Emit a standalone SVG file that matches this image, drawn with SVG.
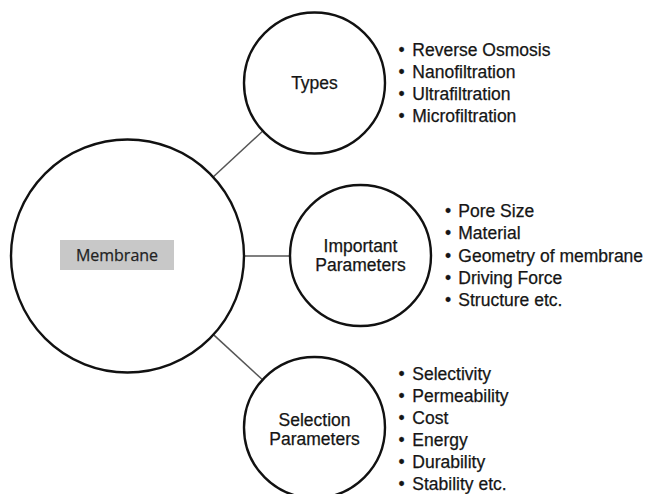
<svg xmlns="http://www.w3.org/2000/svg" width="652" height="494" viewBox="0 0 652 494">
<style>
.node{fill:#fff;stroke:#111;stroke-width:2.4}
.conn{stroke:#555;stroke-width:1.5;fill:none}
text{font-family:"Liberation Sans",Arial,sans-serif;font-size:17.5px;fill:#151515;stroke:#151515;stroke-width:0.25}
.c{text-anchor:middle}
.lbl{font-family:"Open Sans","Noto Sans",sans-serif;font-size:16px;fill:#222;stroke:#222}
</style>
<rect width="652" height="494" fill="#fff"/>
<g id="connectors">
<line class="conn" x1="213.4" y1="176.8" x2="262.8" y2="131"/>
<line class="conn" x1="244.5" y1="256" x2="290" y2="256"/>
<line class="conn" x1="213.7" y1="334.9" x2="262.6" y2="379.8"/>
</g>
<g id="membrane">
<circle class="node" cx="127.5" cy="256" r="116.5"/>
<rect x="60" y="240" width="114" height="30" fill="#c8c8c8"/>
<text class="c lbl" x="117" y="261">Membrane</text>
</g>
<g id="types">
<circle class="node" cx="314.5" cy="83" r="70.5"/>
<text class="c" x="314.5" y="89">Types</text>
<text><tspan x="398.5" y="56">•</tspan><tspan x="412.3">Reverse Osmosis</tspan></text>
<text><tspan x="398.5" y="78">•</tspan><tspan x="412.3">Nanofiltration</tspan></text>
<text><tspan x="398.5" y="100">•</tspan><tspan x="412.3">Ultrafiltration</tspan></text>
<text><tspan x="398.5" y="122">•</tspan><tspan x="412.3">Microfiltration</tspan></text>
</g>
<g id="important">
<circle class="node" cx="360.5" cy="255.5" r="70.5"/>
<text class="c" x="360.5" y="252">Important</text>
<text class="c" x="360.5" y="271">Parameters</text>
<text><tspan x="445" y="217">•</tspan><tspan x="458.3">Pore Size</tspan></text>
<text><tspan x="445" y="239">•</tspan><tspan x="458.3">Material</tspan></text>
<text><tspan x="445" y="261.5">•</tspan><tspan x="458.3">Geometry of membrane</tspan></text>
<text><tspan x="445" y="284">•</tspan><tspan x="458.3">Driving Force</tspan></text>
<text><tspan x="445" y="306">•</tspan><tspan x="458.3">Structure etc.</tspan></text>
</g>
<g id="selection">
<circle class="node" cx="314.5" cy="427.5" r="70.5"/>
<text class="c" x="314.5" y="426">Selection</text>
<text class="c" x="314.5" y="444.5">Parameters</text>
<text><tspan x="398.5" y="380">•</tspan><tspan x="412.3">Selectivity</tspan></text>
<text><tspan x="398.5" y="402">•</tspan><tspan x="412.3">Permeability</tspan></text>
<text><tspan x="398.5" y="424">•</tspan><tspan x="412.3">Cost</tspan></text>
<text><tspan x="398.5" y="446">•</tspan><tspan x="412.3">Energy</tspan></text>
<text><tspan x="398.5" y="468">•</tspan><tspan x="412.3">Durability</tspan></text>
<text><tspan x="398.5" y="489.5">•</tspan><tspan x="412.3">Stability etc.</tspan></text>
</g>
</svg>
